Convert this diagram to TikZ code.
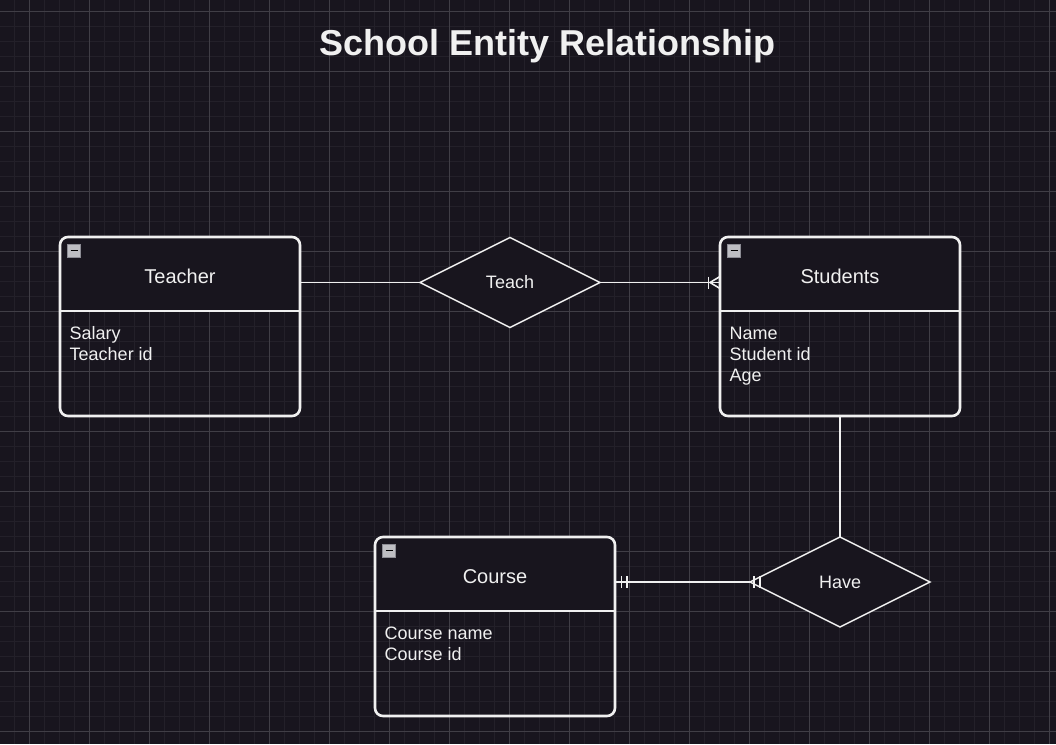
\documentclass[tikz,border=0pt]{standalone}
\usepackage{fontspec}
\setmainfont{Liberation Sans}
\usetikzlibrary{shapes.geometric}
\definecolor{bg}{RGB}{24,21,30}
\definecolor{minorc}{RGB}{35,32,41}
\definecolor{majorc}{RGB}{64,62,70}
\definecolor{fg}{RGB}{240,240,240}
\definecolor{iconfill}{RGB}{190,190,195}
\definecolor{iconedge}{RGB}{140,140,148}
\begin{document}
\begin{tikzpicture}[x=1pt,y=-1pt,
  entity/.style={draw=fg, line width=2.6pt, rounded corners=8pt, minimum width=240pt, minimum height=179pt, inner sep=0pt, outer sep=0pt},
  divider/.style={draw=fg, line width=2.6pt},
  hdrfill/.style={fill=bg},
  ettitle/.style={text=fg, anchor=base, inner sep=0pt, font=\fontsize{20}{24}\selectfont},
  attr/.style={text=fg, anchor=base west, inner sep=0pt, font=\fontsize{18}{21}\selectfont},
  rel/.style={diamond, aspect=2, draw=fg, fill=bg, line width=1.5pt, minimum width=180pt, minimum height=90pt, inner sep=0pt, outer sep=0pt, text=fg, font=\fontsize{18}{21}\selectfont},
  conn/.style={draw=fg, line width=1.6pt},
  iconbox/.style={draw=iconedge, fill=iconfill, line width=0.8pt},
  iconminus/.style={draw=black, line width=1.4pt},
  minorline/.style={draw=minorc, line width=1.5pt},
  majorline/.style={draw=majorc, line width=1pt}]
\useasboundingbox (0,0) rectangle (1056,744);
\fill[bg] (0,0) rectangle (1056,744);
% grid
\foreach \k in {0,...,69} \draw[minorline] ({14.3+15*\k},0) -- ({14.3+15*\k},744);
\foreach \k in {0,...,49} \draw[minorline] (0,{-3.7+15*\k}) -- (1056,{-3.7+15*\k});
\foreach \k in {0,...,17} \draw[majorline] ({29.3+60*\k},0) -- ({29.3+60*\k},744);
\foreach \k in {0,...,12} \draw[majorline] (0,{11.3+60*\k}) -- (1056,{11.3+60*\k});

% title
\node[text=fg, anchor=base, inner sep=0pt, font=\bfseries\fontsize{36}{43}\selectfont] (title) at (547.5,55) {School Entity Relationship};

% ---------- Teacher ----------
\fill[hdrfill, rounded corners=8pt] (60,237) rectangle (300,311);
\fill[hdrfill] (60,260) rectangle (300,311);
\node[entity] (teacher) at (180,326.5) {};
\draw[divider] ([yshift=-74pt]teacher.north west) -- ([yshift=-74pt]teacher.north east);
\draw[iconbox] ([shift={(7.5pt,-7pt)}]teacher.north west) rectangle ([shift={(20.5pt,-20pt)}]teacher.north west);
\draw[iconminus] ([shift={(10.5pt,-13.5pt)}]teacher.north west) -- ([shift={(17.5pt,-13.5pt)}]teacher.north west);
\node[ettitle] (teachertitle) at (180,283.3) {Teacher};
\node[attr] (tsalary) at (69.5,339) {Salary};
\node[attr] (tid) at (69.5,360) {Teacher id};

% ---------- Students ----------
\fill[hdrfill, rounded corners=8pt] (720,237) rectangle (960,311);
\fill[hdrfill] (720,260) rectangle (960,311);
\node[entity] (students) at (840,326.5) {};
\draw[divider] ([yshift=-74pt]students.north west) -- ([yshift=-74pt]students.north east);
\draw[iconbox] ([shift={(7.5pt,-7pt)}]students.north west) rectangle ([shift={(20.5pt,-20pt)}]students.north west);
\draw[iconminus] ([shift={(10.5pt,-13.5pt)}]students.north west) -- ([shift={(17.5pt,-13.5pt)}]students.north west);
\node[ettitle] (studentstitle) at (840,283.3) {Students};
\node[attr] (sname) at (729.5,339) {Name};
\node[attr] (sid) at (729.5,360) {Student id};
\node[attr] (sage) at (729.5,381) {Age};

% ---------- Course ----------
\fill[hdrfill, rounded corners=8pt] (375,537) rectangle (615,611);
\fill[hdrfill] (375,560) rectangle (615,611);
\node[entity] (course) at (495,626.5) {};
\draw[divider] ([yshift=-74pt]course.north west) -- ([yshift=-74pt]course.north east);
\draw[iconbox] ([shift={(7.5pt,-7pt)}]course.north west) rectangle ([shift={(20.5pt,-20pt)}]course.north west);
\draw[iconminus] ([shift={(10.5pt,-13.5pt)}]course.north west) -- ([shift={(17.5pt,-13.5pt)}]course.north west);
\node[ettitle] (coursetitle) at (495,583.3) {Course};
\node[attr] (cname) at (384.5,639) {Course name};
\node[attr] (cid) at (384.5,660) {Course id};

% ---------- Relationships ----------
\node[rel] (teach) at (510,282.5) {Teach};
\node[rel] (have) at (840,582) {Have};

% ---------- Connectors ----------
\draw[conn] (teacher.east |- teach.west) -- (teach.west);

\coordinate (stuin) at (students.west |- teach.east);
\draw[conn] (teach.east) -- (stuin);
\draw[conn] ([xshift=-11.5pt,yshift=6pt]stuin) -- ([xshift=-11.5pt,yshift=-6pt]stuin);
\draw[conn] ([xshift=-10pt]stuin) -- ([yshift=6pt]stuin);
\draw[conn] ([xshift=-10pt]stuin) -- ([yshift=-6pt]stuin);

\draw[conn] (students.south) -- (have.north);

\coordinate (cout) at (course.east |- have.west);
\draw[conn] (cout) -- (have.west);
\draw[conn] ([xshift=6.5pt,yshift=6pt]cout) -- ([xshift=6.5pt,yshift=-6pt]cout);
\draw[conn] ([xshift=12pt,yshift=6pt]cout) -- ([xshift=12pt,yshift=-6pt]cout);
\draw[conn] ([xshift=4pt,yshift=6pt]have.west) -- ([xshift=4pt,yshift=-6pt]have.west);
\draw[conn] ([xshift=10pt,yshift=6pt]have.west) -- ([xshift=10pt,yshift=-6pt]have.west);
\end{tikzpicture}
\end{document}
